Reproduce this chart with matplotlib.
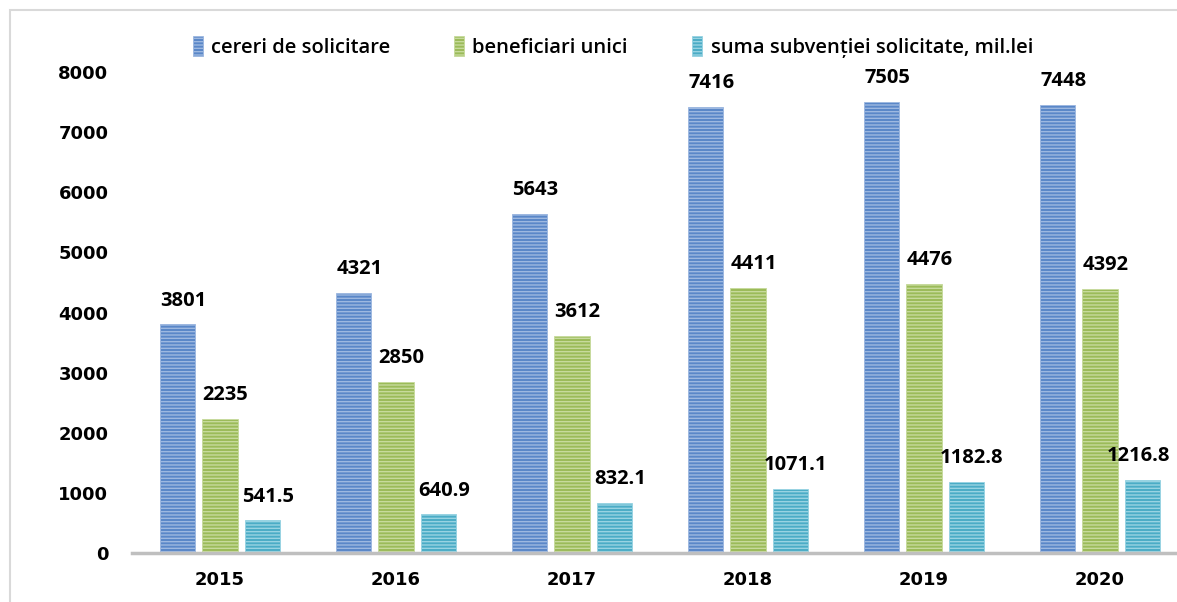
import matplotlib.pyplot as plt
import numpy as np
from matplotlib.patches import Rectangle

plt.rcParams['hatch.linewidth'] = 1.0

# data
years = ['2015', '2016', '2017', '2018', '2019', '2020']
cereri = [3801, 4321, 5643, 7416, 7505, 7448]
beneficiari = [2235, 2850, 3612, 4411, 4476, 4392]
suma = [541.5, 640.9, 832.1, 1071.1, 1182.8, 1216.8]
suma_labels = ['541.5', '640.9', '832.1', '1071.1', '1182.8', '1216.8']
series_names = ['cereri de solicitare', 'beneficiari unici',
                'suma subvenției solicitate, mil.lei']

colors = ['#5A87C8', '#9BBB59', '#4BACC6']
stripes = ['#9DB8E0', '#C7DA9C', '#98D3E2']

fig = plt.figure(figsize=(11.77, 6.02), dpi=100)
ax = fig.add_axes([132/1177, 49/602, (1177-132)/1177, 481/602])

x = np.arange(len(years))
w = 0.2
step = 0.24
all_vals = [cereri, beneficiari, suma]
for i, vals in enumerate(all_vals):
    pos = x + (i - 1) * step
    ax.bar(pos, vals, w, color=colors[i], edgecolor=stripes[i], linewidth=0.6,
           hatch='-----', label=series_names[i])
    labs = suma_labels if i == 2 else [str(v) for v in vals]
    for j, (p, v, t) in enumerate(zip(pos, vals, labs)):
        dx = -3 if (i == 2 and j == len(vals) - 1) else 4
        ax.annotate(t, (p, v), xytext=(dx, 10), textcoords='offset points',
                    ha='center', va='bottom', fontsize=14.5, fontweight='bold',
                    family='Open Sans')

ax.set_xlim(-0.5, -0.5 + (1177-132)/176)
ax.set_ylim(0, 8000)
ax.set_yticks(range(0, 8001, 1000))
ax.set_xticks(x)
ax.set_xticklabels(years)
for s in ['top', 'right', 'left']:
    ax.spines[s].set_visible(False)
ax.spines['bottom'].set_color('#BFBFBF')
ax.spines['bottom'].set_linewidth(2.5)
ax.tick_params(length=0, labelsize=13)
ax.tick_params(axis='y', pad=17)
ax.tick_params(axis='x', pad=13)
for lab in ax.get_xticklabels() + ax.get_yticklabels():
    lab.set_fontweight('bold')
    lab.set_family('DejaVu Sans')

leg = ax.legend(loc='center', bbox_to_anchor=(0.46, 1.052), ncol=3, frameon=False,
                handlelength=0.5, handleheight=1.1, handletextpad=0.4,
                columnspacing=3.2,
                prop={'family': 'Open Sans', 'size': 14.5, 'weight': 'semibold'})

fig.patches.append(Rectangle((10/1177, -0.1), 1.2, (602-10)/602 + 0.1,
                             transform=fig.transFigure, fill=False,
                             edgecolor='#D9D9D9', linewidth=1.5))

fig.savefig('out.png', dpi=100)
